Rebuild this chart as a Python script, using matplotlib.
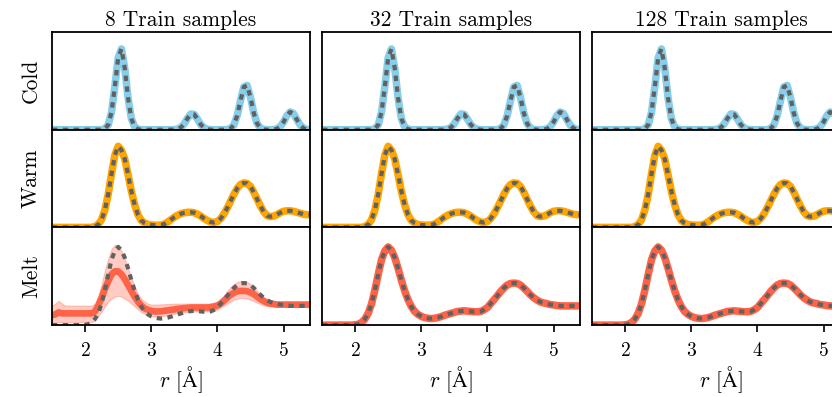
import numpy as np
import matplotlib.pyplot as plt

plt.rcParams['font.family'] = ['cmr10', 'DejaVu Serif']
plt.rcParams['mathtext.fontset'] = 'cm'
plt.rcParams['axes.formatter.use_mathtext'] = True

# r grid (Angstrom), 0.05 spacing
r = np.linspace(1.5, 5.4, 79)

col_titles = ['8 Train samples', '32 Train samples', '128 Train samples']
row_names = ['Cold', 'Warm', 'Melt']
row_colors = ['skyblue', 'orange', 'tomato']
row_ymax = [6.0, 4.0, 3.0]
xticks = [2, 3, 4, 5]

cold = [0, 0, 0, 0, 0, 0, 0, 0, 0, 0, 0, 0, 0, 0, 0, 0,
        0.06, 0.30, 1.08, 2.65, 4.41, 4.96, 3.77, 1.94, 0.68, 0.16, 0.03,
        0, 0, 0, 0, 0, 0, 0, 0, 0, 0,
        0.01, 0.04, 0.14, 0.37, 0.71, 0.97, 0.94, 0.64, 0.31, 0.11, 0.03,
        0, 0, 0, 0, 0,
        0.01, 0.07, 0.30, 0.87, 1.79, 2.63, 2.72, 1.99, 1.03, 0.38, 0.10, 0.02,
        0, 0,
        0.01, 0.05, 0.19, 0.47, 0.86, 1.09, 0.99, 0.63, 0.29, 0.09, 0.02, 0.00]

warm = [0, 0, 0, 0, 0, 0, 0, 0, 0, 0, 0, 0, 0,
        0.04, 0.12, 0.32, 0.72, 1.36, 2.20, 2.96, 3.32, 3.16, 2.80, 2.16, 1.48,
        0.92, 0.52, 0.28, 0.18, 0.12, 0.10, 0.09, 0.09, 0.10, 0.14, 0.22, 0.32,
        0.42, 0.50, 0.56, 0.60, 0.62, 0.62, 0.60, 0.54, 0.46, 0.36, 0.28, 0.22,
        0.20, 0.24, 0.36, 0.56, 0.80, 1.08, 1.36, 1.60, 1.76, 1.82, 1.80, 1.68,
        1.44, 1.16, 0.88, 0.64, 0.48, 0.44, 0.46, 0.52, 0.60, 0.66, 0.68, 0.68,
        0.66, 0.62, 0.58, 0.54, 0.52, 0.52]

melt = [0, 0, 0, 0, 0, 0, 0, 0, 0, 0,
        0.01, 0.03, 0.08, 0.19, 0.37, 0.66, 1.08, 1.56, 2.01, 2.28, 2.40, 2.30,
        2.07, 1.74, 1.38, 1.05, 0.78, 0.57, 0.42, 0.33, 0.27, 0.23, 0.21, 0.20,
        0.21, 0.23, 0.26, 0.30, 0.33, 0.36, 0.39, 0.42, 0.43, 0.44, 0.43, 0.42,
        0.41, 0.41, 0.42, 0.47, 0.54, 0.66, 0.78, 0.90, 1.03, 1.14, 1.23, 1.28,
        1.29, 1.28, 1.23, 1.14, 1.04, 0.93, 0.84, 0.77, 0.71, 0.68, 0.66, 0.63,
        0.62, 0.60, 0.59, 0.59, 0.59, 0.59, 0.59, 0.59, 0.59]

# 8-sample model on Melt: mean and spread
melt8_mean = [0.30, 0.33, 0.39, 0.36,
              0.36, 0.36, 0.36, 0.36, 0.36, 0.36, 0.36, 0.36, 0.36,
              0.42, 0.60, 0.84, 1.11, 1.35, 1.56, 1.65, 1.65, 1.56, 1.41, 1.23,
              1.05, 0.87, 0.72, 0.60, 0.51, 0.47, 0.44, 0.42, 0.42, 0.42, 0.44,
              0.45, 0.47, 0.48, 0.50, 0.51, 0.52, 0.53, 0.54, 0.54, 0.54, 0.54,
              0.54, 0.54, 0.55, 0.57, 0.60, 0.66, 0.75, 0.84, 0.93, 0.99, 1.04,
              1.05, 1.05, 1.04, 1.00, 0.95, 0.87, 0.80, 0.74, 0.69, 0.66, 0.65,
              0.63, 0.63, 0.63, 0.63, 0.63, 0.63, 0.63, 0.63, 0.63, 0.63, 0.63]
melt8_hi = [0.60, 0.66, 0.75, 0.66,
            0.60, 0.60, 0.60, 0.60, 0.60, 0.60, 0.60, 0.60, 0.60,
            0.66, 0.90, 1.26, 1.68, 2.04, 2.34, 2.46, 2.43, 2.28, 2.04, 1.74,
            1.44, 1.17, 0.96, 0.81, 0.72, 0.66, 0.63,
            0.63, 0.63, 0.64, 0.64, 0.65, 0.65, 0.66, 0.66, 0.66, 0.66, 0.66,
            0.66, 0.66, 0.66, 0.66, 0.66, 0.66,
            0.67, 0.69, 0.72, 0.80, 0.92, 1.05, 1.17, 1.26, 1.32, 1.35, 1.35,
            1.32, 1.26, 1.17, 1.05, 0.95, 0.86, 0.80, 0.75, 0.72,
            0.70, 0.70, 0.70, 0.70, 0.70, 0.70, 0.70, 0.70, 0.70, 0.70, 0.70]
melt8_lo = [0.09, 0.09, 0.09, 0.09, 0.09, 0.09, 0.09, 0.09, 0.09, 0.09, 0.09,
            0.09, 0.09,
            0.15, 0.27, 0.42, 0.57, 0.72, 0.81, 0.87, 0.90, 0.87, 0.81, 0.75,
            0.66, 0.57, 0.48, 0.40, 0.35, 0.30, 0.27, 0.26, 0.26, 0.27, 0.29,
            0.30, 0.33, 0.35, 0.36, 0.38, 0.39, 0.41, 0.42, 0.42, 0.42, 0.42,
            0.42, 0.42, 0.44, 0.45, 0.48, 0.54, 0.60, 0.66, 0.72, 0.78, 0.81,
            0.83, 0.83, 0.81, 0.78, 0.74, 0.69, 0.65, 0.60, 0.59, 0.57, 0.57,
            0.56, 0.56, 0.56, 0.56, 0.56, 0.56, 0.56, 0.56, 0.56, 0.56, 0.56]

refs = [cold, warm, melt]

fig = plt.figure(figsize=(8.32, 3.97), dpi=100)
W, H = 832, 397
lefts = [52, 322, 592]
aw = 258
top0, ah = 32, 97.7

for j in range(3):
    for i in range(3):
        top = top0 + i * ah
        ax = fig.add_axes([lefts[j] / W, 1 - (top + ah) / H, aw / W, ah / H])
        c = row_colors[i]
        if j == 0 and i == 2:
            ax.fill_between(r, melt8_lo, melt8_hi, color=c, alpha=0.33, lw=0.8)
            ax.plot(r, melt8_mean, color=c, lw=4.8, solid_capstyle='round')
        else:
            ax.plot(r, refs[i], color=c, lw=5.4, solid_capstyle='round')
        ax.plot(r, refs[i], color='#616161', lw=3, dashes=(1.3, 1.3))
        ax.set_xlim(1.5, 5.4)
        ax.set_ylim(0, row_ymax[i])
        ax.set_yticks([])
        for s in ax.spines.values():
            s.set_linewidth(1.3)
        if i == 2:
            ax.set_xticks(xticks)
            ax.tick_params(axis='x', direction='out', length=5, width=1.2,
                           labelsize=14, pad=7)
            ax.set_xlabel(r'$r$ [$\mathrm{\AA}$]', fontsize=15.5, labelpad=3)
        else:
            ax.set_xticks([])
        if i == 0:
            ax.set_title(col_titles[j], fontsize=15.5, pad=4)
        if j == 0:
            ax.set_ylabel(row_names[i], fontsize=15.5, labelpad=8)

fig.savefig('out.png', dpi=100)
